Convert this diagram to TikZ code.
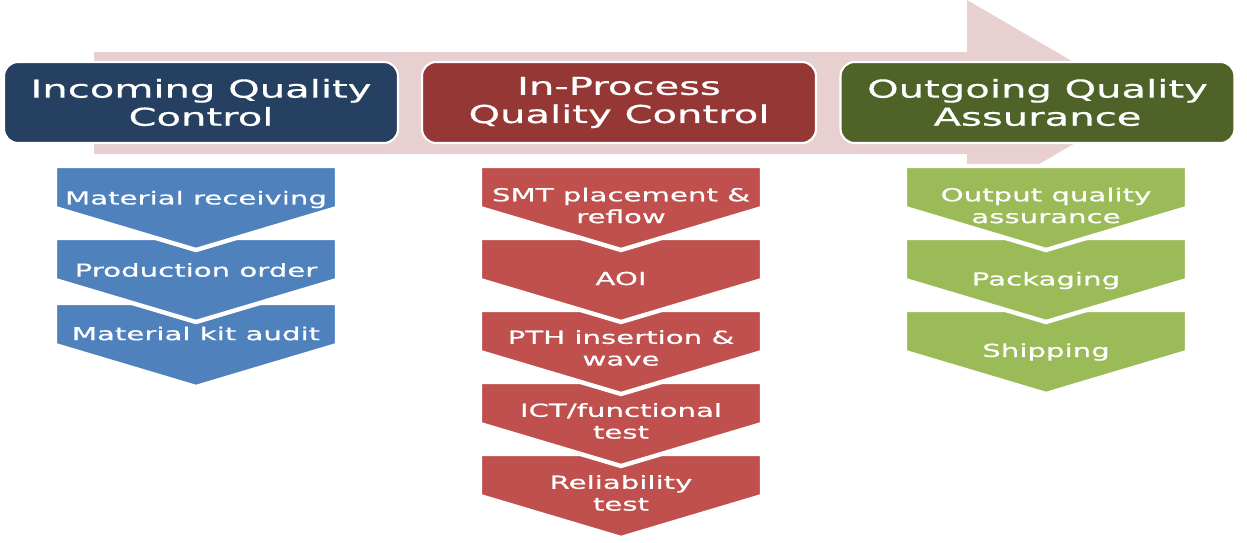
\documentclass[tikz,border=0pt]{standalone}
\usepackage{fontspec}
\usepackage{tikz}
\usetikzlibrary{positioning}
\newfontfamily\widesans[FakeStretch=1.63, FakeBold=0.6]{DejaVu Sans}
\definecolor{cnavy}{RGB}{37,64,97}
\definecolor{cmaroon}{RGB}{149,55,53}
\definecolor{colive}{RGB}{79,98,40}
\definecolor{cblue}{RGB}{79,129,189}
\definecolor{cred}{RGB}{192,80,77}
\definecolor{cgreen}{RGB}{155,187,89}
\definecolor{lightpink}{RGB}{232,208,208}

% down-pointing chevron: centre x, top y, fill colour
\newcommand{\chevron}[3]{%
  \filldraw[chevline, fill=#3] (#1-141,#2) -- ++(282,0) -- ++(0,42) -- ++(-141,42) -- ++(-141,-42) -- cycle;}

\begin{document}
\begin{tikzpicture}[
    x=0.02cm, y=-0.02cm,
    titlebox/.style={draw=white, line width=1.2pt, rounded corners=0.28cm, minimum width=7.88cm, minimum height=1.62cm, text=white, align=center, font=\widesans\fontsize{14}{16}\selectfont},
    chevline/.style={draw=white, line width=2.5pt, line join=miter},
    chevtext/.style={text=white, align=center, inner sep=0pt, font=\widesans\fontsize{10.2}{12.4}\selectfont},
]
    \useasboundingbox (0,0) rectangle (1247,542);

    % Big arrow behind the headers
    \fill[lightpink] (94,52) -- (967,52) -- (967,0) -- (1144,103) -- (967,206) -- (967,154) -- (94,154) -- cycle;

    % Headers
    \node[titlebox, fill=cnavy] (incoming) at (201,102.5) {Incoming Quality\\Control};
    \node[titlebox, fill=cmaroon] (inprocess) at (619,102.5) {In-Process\\Quality Control};
    \node[titlebox, fill=colive] (outgoing) at (1037.5,102.5) {Outgoing Quality\\Assurance};

    % Incoming column
    \chevron{196}{303}{cblue}
    \chevron{196}{238}{cblue}
    \chevron{196}{166}{cblue}
    \node[chevtext] (receiving) at (196,199.5) {Material receiving};
    \node[chevtext] (order) at (196,270) {Production order};
    \node[chevtext] (kitaudit) at (196,333.5) {Material kit audit};

    % In-process column
    \chevron{621}{454}{cred}
    \chevron{621}{382}{cred}
    \chevron{621}{310}{cred}
    \chevron{621}{238}{cred}
    \chevron{621}{166}{cred}
    \node[chevtext] (smt) at (621,205.5) {SMT placement \&\\reflow};
    \node[chevtext] (aoi) at (621,278.5) {AOI};
    \node[chevtext] (pth) at (621,348) {PTH insertion \&\\wave};
    \node[chevtext] (ict) at (621,421) {ICT/functional\\test};
    \node[chevtext] (reliab) at (621,493) {Reliability\\test};

    % Outgoing column
    \chevron{1046}{310}{cgreen}
    \chevron{1046}{238}{cgreen}
    \chevron{1046}{166}{cgreen}
    \node[chevtext] (oqa) at (1046,205.5) {Output quality\\assurance};
    \node[chevtext] (packaging) at (1046,280.5) {Packaging};
    \node[chevtext] (shipping) at (1046,352) {Shipping};
\end{tikzpicture}
\end{document}
